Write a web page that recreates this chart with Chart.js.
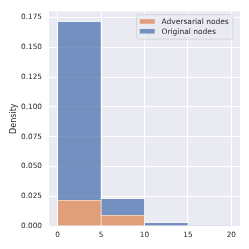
<!DOCTYPE html>
<html>
<head>
<meta charset="utf-8">
<script src="https://cdn.jsdelivr.net/npm/chart.js@4"></script>
<style>
html,body{margin:0;padding:0;background:#ffffff;}
#wrap{width:249px;height:249px;}
</style>
</head>
<body>
<div id="wrap"><canvas id="c" width="249" height="249"></canvas></div>
<script>
// bin centres (bins of width 5 from 0 to 20)
const binCenters = [2.5, 7.5, 12.5, 17.5];
const xTicks = [0, 5, 10, 15, 20];
const adversarial = [0.0216, 0.0090, 0.0, 0.0];
const original = [0.1499, 0.0140, 0.0028, 0.0004]; // stacked on top of adversarial
const seriesLabels = ['Adversarial nodes', 'Original nodes'];
const yTicks = [0, 0.025, 0.05, 0.075, 0.1, 0.125, 0.15, 0.175];

const FONT = 'DejaVu Sans';
const TXT = '#262626';

const bgPlugin = {
  id: 'bg',
  beforeDraw(chart) {
    const {ctx, chartArea: a} = chart;
    ctx.save();
    ctx.fillStyle = '#EAEAF2';
    ctx.fillRect(a.left, a.top, a.right - a.left, a.bottom - a.top);
    ctx.restore();
  }
};

const legendPlugin = {
  id: 'innerLegend',
  afterDraw(chart) {
    const ctx = chart.ctx;
    const a = chart.chartArea;
    const x0 = a.right - 103.5, y0 = a.top + 3.3, w = 96.5, h = 24.5;
    ctx.save();
    ctx.beginPath();
    if (ctx.roundRect) ctx.roundRect(x0, y0, w, h, 2); else ctx.rect(x0, y0, w, h);
    ctx.fillStyle = 'rgba(234,234,242,0.8)';
    ctx.fill();
    ctx.strokeStyle = 'rgba(204,204,204,0.8)';
    ctx.lineWidth = 0.8;
    ctx.stroke();
    ctx.font = '7.5px "' + FONT + '"';
    ctx.textBaseline = 'middle';
    ctx.textAlign = 'left';
    chart.data.datasets.forEach((ds, i) => {
      const cy = y0 + 6.8 + i * 9.8;
      ctx.fillStyle = ds.backgroundColor;
      ctx.fillRect(x0 + 3.3, cy - 2.3, 15, 4.6);
      ctx.fillStyle = TXT;
      ctx.fillText(ds.label, x0 + 25, cy + 0.3);
    });
    ctx.restore();
  }
};

new Chart(document.getElementById('c'), {
  type: 'bar',
  data: {
    datasets: [
      {
        label: seriesLabels[0],
        data: binCenters.map((x, i) => ({x: x, y: adversarial[i]})),
        backgroundColor: 'rgba(221,132,82,0.75)',
        borderColor: 'rgba(255,255,255,0.9)',
        borderWidth: 0.6,
        barPercentage: 1,
        categoryPercentage: 1
      },
      {
        label: seriesLabels[1],
        data: binCenters.map((x, i) => ({x: x, y: original[i]})),
        backgroundColor: 'rgba(76,114,176,0.75)',
        borderColor: 'rgba(255,255,255,0.9)',
        borderWidth: 0.6,
        barPercentage: 1,
        categoryPercentage: 1
      }
    ]
  },
  options: {
    responsive: false,
    animation: false,
    devicePixelRatio: 1,
    layout: {padding: {left: 0, right: 9, top: 9, bottom: 0}},
    plugins: {legend: {display: false}, tooltip: {enabled: false}},
    scales: {
      x: {
        type: 'linear',
        stacked: true,
        offset: false,
        min: -1,
        max: 21,
        afterBuildTicks(scale) { scale.ticks = xTicks.map(v => ({value: v})); },
        afterFit(scale) { scale.height = 23; },
        grid: {color: '#ffffff', lineWidth: 1, drawTicks: false, offset: false},
        border: {display: false},
        ticks: {
          padding: 5,
          color: TXT,
          font: {family: FONT, size: 7.3},
          maxRotation: 0,
          callback: v => String(v)
        }
      },
      y: {
        stacked: true,
        min: 0,
        max: 0.1802,
        afterBuildTicks(scale) { scale.ticks = yTicks.map(v => ({value: v})); },
        afterFit(scale) { scale.width = 49; },
        grid: {color: '#ffffff', lineWidth: 1, drawTicks: false},
        border: {display: false},
        ticks: {
          padding: 7,
          color: TXT,
          font: {family: FONT, size: 7.3},
          callback: v => Number(v).toFixed(3)
        },
        title: {
          display: true,
          text: 'Density',
          color: TXT,
          font: {family: FONT, size: 8},
          padding: {top: 8.7, bottom: 0}
        }
      }
    }
  },
  plugins: [bgPlugin, legendPlugin]
});
</script>
</body>
</html>
